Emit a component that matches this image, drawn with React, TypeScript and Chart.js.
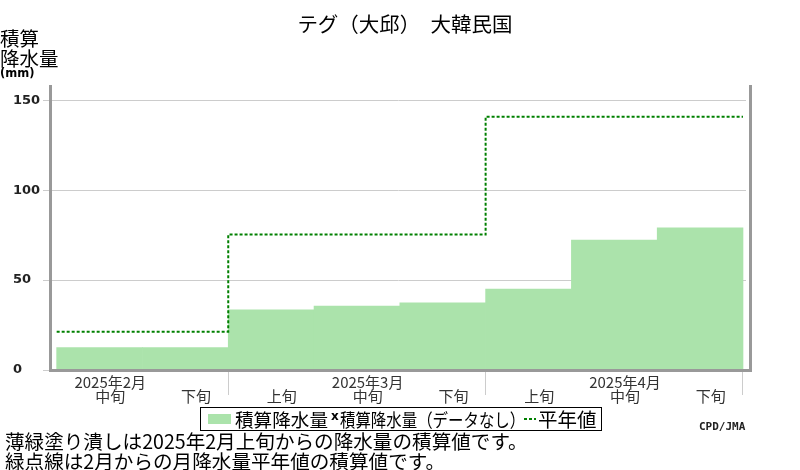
import React, { useEffect, useRef } from "react";
import { Chart, registerables } from "chart.js";

Chart.register(...registerables);

// ---- data ----
const dekadLabels = ["中旬", "下旬", "上旬", "中旬", "下旬", "上旬", "中旬", "下旬"];
const monthLabels = ["2025年2月", "2025年3月", "2025年4月"];
const monthLabelDekad = [0, 3, 6];
const accumulated = [12.4, 12.4, 33.4, 35.6, 37.3, 45.0, 72.3, 79.0];
const normalMonthly = [21.3, 75.3, 140.9];
const monthEndDekad = [2, 5, 8];
const yTicks = [0, 50, 100, 150];

const CJK = '"Noto Sans CJK JP", "Noto Sans", sans-serif';
const BAR_GREEN = "rgb(171,227,171)";
const LINE_GREEN = "#008000";
const FRAME = "rgb(153,153,153)";
const GRID = "rgb(204,204,204)";

const framePlugin = {
  id: "frame",
  afterDatasetsDraw(chart: any) {
    const { ctx, chartArea } = chart;
    ctx.save();
    ctx.strokeStyle = FRAME;
    ctx.lineWidth = 3;
    ctx.beginPath();
    ctx.moveTo(chartArea.left - 0.5, chartArea.top);
    ctx.lineTo(chartArea.left - 0.5, chartArea.bottom + 2);
    ctx.moveTo(chartArea.left - 2, chartArea.bottom + 0.5);
    ctx.lineTo(chartArea.right + 6, chartArea.bottom + 0.5);
    ctx.moveTo(chartArea.right + 4.5, chartArea.top);
    ctx.lineTo(chartArea.right + 4.5, chartArea.bottom + 2);
    ctx.stroke();
    ctx.restore();
  },
};

export default function App() {
  const ref = useRef<HTMLCanvasElement | null>(null);

  useEffect(() => {
    if (!ref.current) return;
    const barData = accumulated.map((v, i) => ({ x: i + 0.5, y: v }));
    const normalData = [{ x: 0, y: normalMonthly[0] }].concat(
      monthEndDekad.map((d, i) => ({
        x: d,
        y: normalMonthly[Math.min(i + 1, normalMonthly.length - 1)],
      }))
    );

    const chart = new Chart(ref.current, {
      type: "bar",
      data: {
        datasets: [
          {
            type: "line",
            label: "平年値",
            data: normalData,
            stepped: true,
            borderColor: LINE_GREEN,
            borderWidth: 2,
            borderDash: [3, 2],
            pointRadius: 0,
            fill: false,
            order: 0,
          } as any,
          {
            type: "bar",
            label: "積算降水量",
            data: barData,
            backgroundColor: BAR_GREEN,
            borderWidth: 0,
            barPercentage: 1,
            categoryPercentage: 1,
            order: 1,
          } as any,
        ],
      },
      options: {
        responsive: false,
        animation: false,
        devicePixelRatio: 1,
        layout: { padding: { left: 13, right: 54, top: 85, bottom: 60 } },
        plugins: {
          legend: { display: false },
          title: { display: false },
          tooltip: { enabled: false },
        },
        scales: {
          x: {
            type: "linear",
            position: "bottom",
            min: -0.066,
            max: 8.035,
            offset: false,
            border: { display: false },
            grid: {
              offset: false,
              drawOnChartArea: false,
              drawTicks: true,
              tickLength: 25,
              lineWidth: 1,
              color: (c: any) =>
                c.tick && monthEndDekad.includes(c.tick.value) ? GRID : "rgba(0,0,0,0)",
            },
            afterBuildTicks: (scale: any) => {
              scale.ticks = dekadLabels.map((_, i) => ({ value: i + 1 }));
            },
            afterFit: (scale: any) => {
              scale.height = 40;
              scale.paddingLeft = 0;
              scale.paddingRight = 0;
            },
            ticks: {
              autoSkip: false,
              maxRotation: 0,
              minRotation: 0,
              labelOffset: -32.2,
              padding: -19.5,
              color: "#333",
              font: { family: CJK, size: 15, lineHeight: 14 / 15 },
              callback: (_v: any, i: number) => {
                const m = monthLabelDekad.indexOf(i);
                return [m >= 0 ? monthLabels[m] : "", dekadLabels[i]];
              },
            },
          } as any,
          y: {
            type: "linear",
            min: 0,
            max: 158.5,
            border: { display: false },
            grid: {
              color: GRID,
              lineWidth: 1,
              drawTicks: true,
              tickLength: 8,
            },
            afterBuildTicks: (scale: any) => {
              scale.ticks = yTicks.map((v) => ({ value: v }));
            },
            afterFit: (scale: any) => {
              scale.width = 38;
              scale.paddingTop = 0;
              scale.paddingBottom = 0;
            },
            ticks: {
              crossAlign: "far",
              padding: 2,
              color: "#222",
              font: { family: '"DejaVu Sans", sans-serif', size: 13, weight: "bold" },
              callback: (v: any) => String(v),
            },
          } as any,
        },
      },
      plugins: [framePlugin],
    });
    return () => chart.destroy();
  }, []);

  const abs = (s: React.CSSProperties): React.CSSProperties => ({
    position: "absolute",
    whiteSpace: "nowrap",
    margin: 0,
    ...s,
  });

  return (
    <div
      style={{
        position: "fixed",
        left: 0,
        top: 0,
        width: 800,
        height: 470,
        background: "#fff",
        overflow: "hidden",
        fontFamily: CJK,
        color: "#000",
      }}
    >
      <canvas
        ref={ref}
        width={800}
        height={470}
        style={{ position: "absolute", left: 0, top: 0, width: 800, height: 470 }}
      />
      <div style={abs({ left: 0, width: 810, top: 11, textAlign: "center", fontSize: 20.5, lineHeight: "24px" })}>
        テグ（大邱）　大韓民国
      </div>
      <div style={abs({ left: 0, top: 28, fontSize: 19.5, lineHeight: "19.5px" })}>
        積算
        <br />
        降水量
      </div>
      <div
        style={abs({
          left: 0,
          top: 67,
          fontSize: 11.5,
          lineHeight: "12px",
          fontWeight: "bold",
          fontFamily: '"DejaVu Sans", sans-serif',
        })}
      >
        (mm)
      </div>

      {/* legend */}
      <div
        style={abs({
          left: 200,
          top: 407,
          width: 402,
          height: 24,
          boxSizing: "border-box",
          border: "1px solid #000",
          background: "#fff",
        })}
      />
      <div style={abs({ left: 208, top: 414, width: 23, height: 10, background: BAR_GREEN })} />
      <div style={abs({ left: 235, top: 408, fontSize: 18.6, lineHeight: "22px" })}>積算降水量</div>
      <div
        style={abs({
          left: 331,
          top: 409,
          fontSize: 12,
          lineHeight: "14px",
          fontWeight: "bold",
          fontFamily: '"DejaVu Sans", sans-serif',
        })}
      >
        x
      </div>
      <div
        style={abs({
          left: 340,
          top: 408,
          fontSize: 18.6,
          lineHeight: "22px",
          transform: "scaleX(0.83)",
          transformOrigin: "left center",
        })}
      >
        積算降水量（データなし）
      </div>
      <div
        style={abs({
          left: 524,
          top: 418,
          width: 12,
          height: 2,
          background: `repeating-linear-gradient(to right, ${LINE_GREEN} 0 3px, transparent 3px 5px)`,
        })}
      />
      <div style={abs({ left: 538, top: 408, fontSize: 19.5, lineHeight: "22px" })}>平年値</div>

      <div
        style={abs({
          left: 699,
          top: 421,
          fontSize: 11,
          lineHeight: "12px",
          fontWeight: "bold",
          fontFamily: '"DejaVu Sans Mono", monospace',
          color: "#222",
        })}
      >
        CPD/JMA
      </div>

      <div style={abs({ left: 5, top: 431, fontSize: 19.6, lineHeight: "19.5px" })}>
        薄緑塗り潰しは2025年2月上旬からの降水量の積算値です。
        <br />
        緑点線は2月からの月降水量平年値の積算値です。
      </div>
    </div>
  );
}
